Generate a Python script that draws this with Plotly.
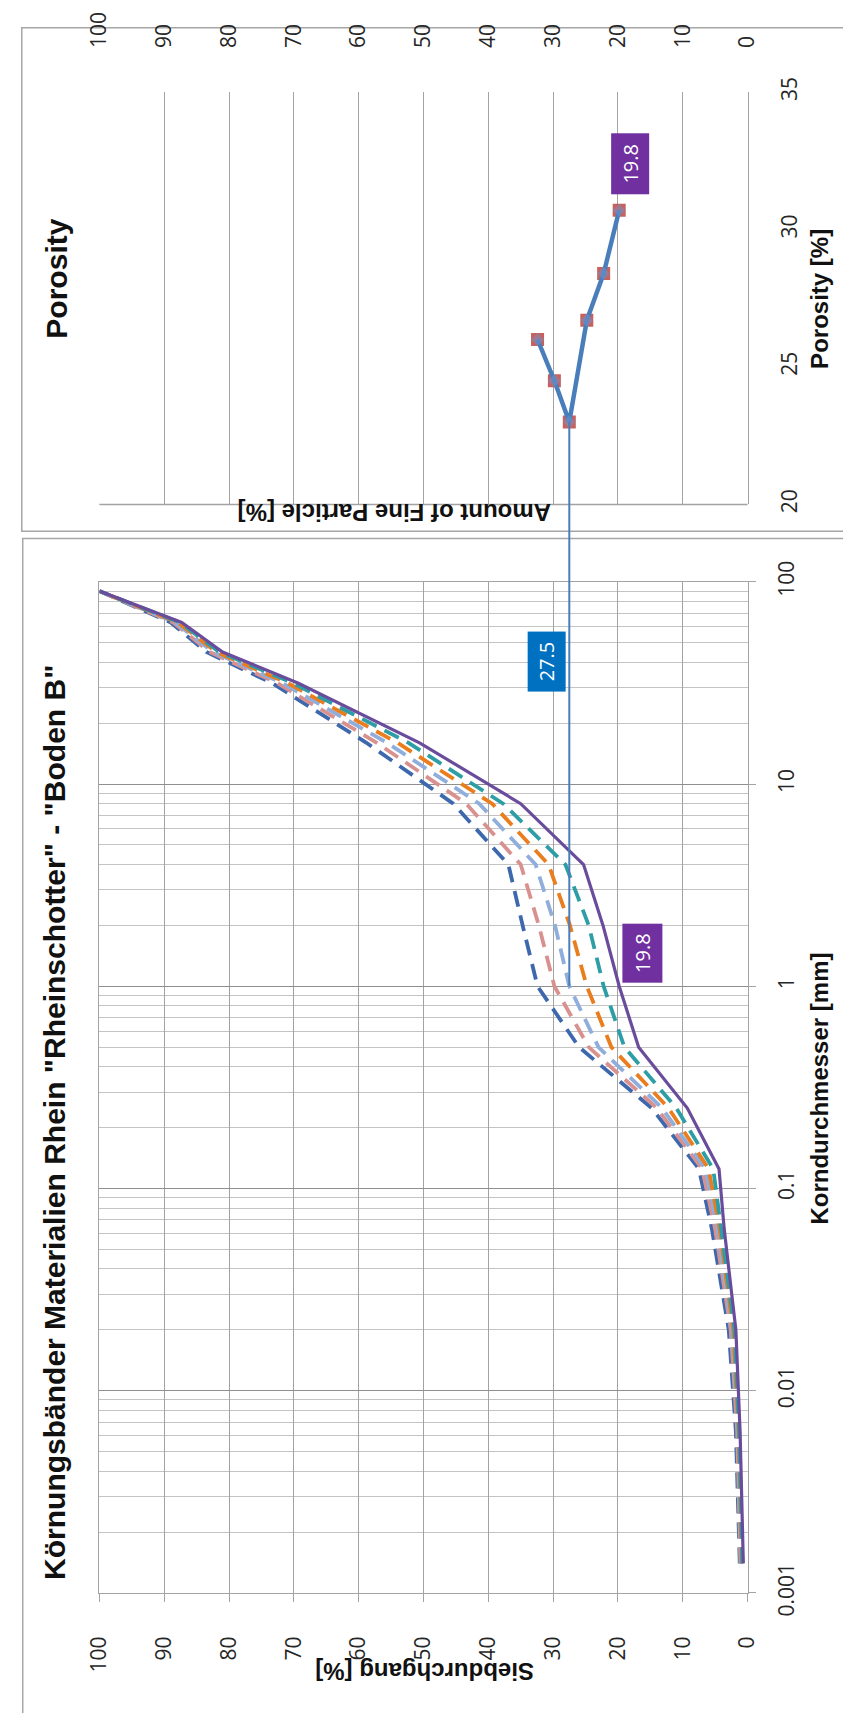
import math
import plotly.graph_objects as go

# ---------------- data ----------------
sieve_mm = [0.0014, 0.0063, 0.02, 0.063, 0.125, 0.25, 0.5, 1, 2, 4, 8, 16, 31.5, 45, 63, 90]

curve_dark_blue = [1.2, 1.8, 2.9, 5.5, 7.5, 14.8, 26.0, 32.4, 34.7, 36.9, 45.4, 58.8, 73.3, 83.5, 89.0, 100]
curve_pink      = [1.1, 1.6, 2.6, 5.0, 7.0, 14.0, 24.5, 29.8, 32.2, 35.0, 43.4, 57.2, 72.5, 83.0, 88.6, 100]
curve_light     = [1.0, 1.5, 2.4, 4.6, 6.5, 13.2, 23.0, 27.5, 29.7, 32.7, 41.4, 55.6, 71.7, 82.5, 88.3, 100]
curve_orange    = [0.9, 1.4, 2.2, 4.3, 6.0, 12.2, 21.0, 24.8, 27.4, 30.7, 39.4, 54.0, 70.9, 82.0, 87.9, 100]
curve_teal      = [0.8, 1.3, 2.0, 4.0, 5.3, 11.0, 19.0, 22.2, 24.5, 28.1, 37.7, 52.3, 70.1, 81.5, 87.6, 100]
curve_purple    = [0.65, 1.15, 1.8, 3.6, 4.4, 9.3, 16.8, 19.8, 22.3, 25.3, 35.0, 50.6, 69.3, 81.0, 87.3, 100]

fine_particle = [32.4, 29.8, 27.5, 24.8, 22.2, 19.8]
porosity      = [26.0, 24.5, 23.0, 26.7, 28.4, 30.7]

pct_ticks = [0, 10, 20, 30, 40, 50, 60, 70, 80, 90, 100]
dia_tickvals = [0.001, 0.01, 0.1, 1, 10, 100]
dia_ticktext = ["0.001", "0.01", "0.1", "1", "10", "100"]
por_ticks = [20, 25, 30, 35]

# ---------------- geometry ----------------
W, H = 843, 1713
def px(x):
    return x / W
def py(y):
    return 1 - y / H

x_dom = [px(87.3), px(757.7)]
yb_dom = [py(1614.3), py(576)]
yt_dom = [py(496.5), py(73)]

GRID = "#a3a3a3"
GRID_MINOR = "#c4c4c4"
TICKFONT = dict(family="Open Sans", size=21, color="#262626")
TITLEFONT = dict(family="Liberation Sans", size=24, color="#111111")
BIGFONT = dict(family="Liberation Sans", size=30, color="#111111")

fig = go.Figure()

curves = [
    (curve_dark_blue, "#3d68ad"),
    (curve_pink, "#d9918f"),
    (curve_light, "#90aedb"),
    (curve_orange, "#ea7d1e"),
    (curve_teal, "#2e9ea6"),
]
for vals, col in curves:
    fig.add_trace(go.Scatter(x=vals, y=sieve_mm, xaxis="x", yaxis="y", mode="lines",
                             line=dict(color=col, width=3.8, dash="16px,9px"),
                             hoverinfo="skip"))
fig.add_trace(go.Scatter(x=curve_purple, y=sieve_mm, xaxis="x", yaxis="y", mode="lines",
                         line=dict(color="#6a4c9c", width=3.2), hoverinfo="skip"))

fig.add_trace(go.Scatter(x=fine_particle, y=porosity, xaxis="x2", yaxis="y2", mode="markers",
                         marker=dict(symbol="square", size=13, color="#c0504d", opacity=0.9),
                         hoverinfo="skip"))
fig.add_trace(go.Scatter(x=fine_particle, y=porosity, xaxis="x2", yaxis="y2", mode="lines+markers",
                         line=dict(color="#4a7ebb", width=4.5),
                         marker=dict(symbol="diamond", size=10, color="rgba(110,150,210,0.45)"),
                         hoverinfo="skip"))

def ypaper_log(d):
    return yb_dom[0] + (math.log10(d) + 3) / 5 * (yb_dom[1] - yb_dom[0])
def ypaper_por(p):
    return yt_dom[0] + (p - 20) / 15 * (yt_dom[1] - yt_dom[0])

shapes = [
    dict(type="rect", xref="paper", yref="paper", x0=px(7), x1=1.05, y0=py(524), y1=py(7),
         line=dict(color="#a6a6a6", width=1.5), layer="below"),
    dict(type="rect", xref="paper", yref="paper", x0=px(8), x1=1.05, y0=-0.05, y1=py(531.5),
         line=dict(color="#a6a6a6", width=1.5), layer="below"),
    dict(type="line", xref="x2 domain", yref="y2 domain", x0=0, x1=1, y0=0, y1=0,
         line=dict(color=GRID, width=1.5)),
    dict(type="line", xref="x", yref="paper", x0=fine_particle[2], x1=fine_particle[2],
         y0=ypaper_log(1), y1=ypaper_por(porosity[2]),
         line=dict(color="#4a7ebb", width=2)),
]

def ann(text, x, y, angle, font, **kw):
    d = dict(text=text, x=x, y=y, xref="paper", yref="paper", textangle=angle,
             showarrow=False, font=font, xanchor="center", yanchor="middle")
    d.update(kw)
    return d

LABELFONT = dict(family="Open Sans", size=20, color="white")
annotations = [
    ann('<b>Körnungsbänder Materialien Rhein "Rheinschotter" - "Boden B"</b>',
        px(41), py(1131), -90, BIGFONT),
    ann("<b>Porosity</b>", px(42), py(265), -90, BIGFONT),
    ann("<b>Porosity [%]</b>", px(832), py(285), -90, TITLEFONT),
    ann("<b>Korndurchmesser [mm]</b>", px(832), py(1096), -90, TITLEFONT),
    ann("<b>Amount of Fine Particle [%]</b>", px(392), py(505), 180, TITLEFONT),
    ann("<b>Siebdurchgang [%]</b>", px(423), py(1695), 180, TITLEFONT),
    ann(f"{fine_particle[2]:.1f}", 31.0, math.log10(40.4), -90, LABELFONT,
        xref="x", yref="y", bgcolor="#0070c0", borderpad=1, width=57, height=35),
    ann(f"{fine_particle[5]:.1f}", 16.2, math.log10(1.45), -90, LABELFONT,
        xref="x", yref="y", bgcolor="#7030a0", borderpad=1, width=56, height=37),
    ann(f"{fine_particle[5]:.1f}", 18.1, 32.4, -90, LABELFONT,
        xref="x2", yref="y2", bgcolor="#7030a0", borderpad=1, width=58, height=35),
]

fig.update_layout(
    width=W, height=H, margin=dict(l=0, r=0, t=0, b=0),
    paper_bgcolor="white", plot_bgcolor="white", showlegend=False,
    shapes=shapes, annotations=annotations,
    xaxis=dict(domain=x_dom, range=[100, 0], anchor="y", tickmode="array", tickvals=pct_ticks,
               tickangle=-90, ticks="outside", ticklen=8, tickcolor=GRID, tickwidth=1.3,
               showgrid=True, gridcolor=GRID, gridwidth=1.3, zeroline=False,
               showline=True, linecolor=GRID, linewidth=1.3, mirror=True,
               tickfont=TICKFONT, ticklabelstandoff=26),
    yaxis=dict(domain=yb_dom, type="log", range=[-3, 2], anchor="x", side="right",
               tickmode="array", tickvals=dia_tickvals, ticktext=dia_ticktext,
               tickangle=-90, ticks="outside", ticklen=7, tickcolor=GRID, tickwidth=1.3,
               showgrid=True, gridcolor="#8f8f8f", gridwidth=1.4, zeroline=False,
               showline=True, linecolor=GRID, linewidth=1.3, mirror=True,
               minor=dict(dtick="D1", showgrid=True, gridcolor=GRID_MINOR, gridwidth=1.2, ticks=""),
               tickfont=TICKFONT, ticklabelstandoff=13),
    xaxis2=dict(domain=x_dom, range=[100, 0], anchor="y2", side="top", tickmode="array",
                tickvals=pct_ticks, tickangle=-90, ticks="", showgrid=True, gridcolor=GRID,
                gridwidth=1.3, zeroline=False, showline=False, tickfont=TICKFONT,
                ticklabelstandoff=43),
    yaxis2=dict(domain=yt_dom, range=[20, 35], anchor="x2", side="right", tickmode="array",
                tickvals=por_ticks, tickangle=-90, ticks="", showgrid=False, zeroline=False,
                showline=True, linecolor=GRID, linewidth=1.3, tickfont=TICKFONT,
                ticklabelstandoff=23),
)

fig.write_html("out.html")
